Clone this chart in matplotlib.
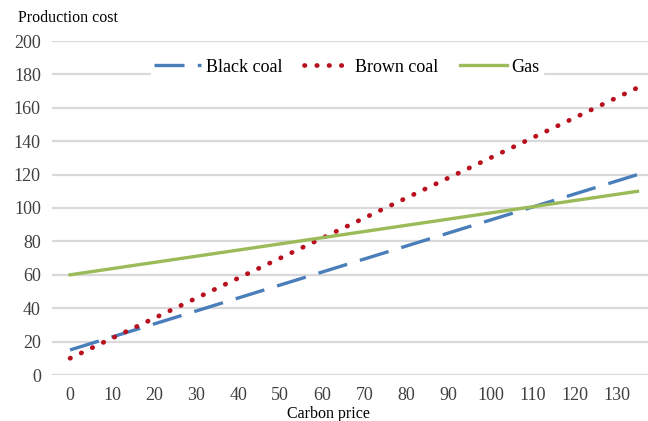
import matplotlib.pyplot as plt
import numpy as np

# carbon price endpoints and production cost per fuel (straight lines)
carbon_price = [0, 135]
black_coal = [15, 120]
brown_coal = [10, 172]
gas = [60, 110]

x_ticks = list(range(0, 140, 10))
y_ticks = list(range(0, 220, 20))

plt.rcParams["font.family"] = ["Liberation Serif", "DejaVu Serif"]

fig = plt.figure(figsize=(6.48, 4.21), dpi=100)
ax = fig.add_axes([52 / 648, 46 / 421, 596 / 648, 334 / 421])

ax.plot(carbon_price, black_coal, color="#4a7ebb", lw=2.4,
        dashes=(9, 4), label="Black coal")
ax.plot(carbon_price, brown_coal, color="#b8101c", lw=3.4,
        linestyle=(0, (0.1, 2.5)), dash_capstyle="round", label="Brown coal")
ax.plot(carbon_price, gas, color="#9bbb59", lw=2.4, label="Gas")

ax.set_xlim(-4.3, 137.5)
ax.set_ylim(0, 200)
ax.set_xticks(x_ticks)
ax.set_yticks(y_ticks)
ax.tick_params(length=0, labelsize=13, colors="#404040", pad=8)
ax.tick_params(axis="x", pad=9)
for s in ax.spines.values():
    s.set_visible(False)
ax.grid(axis="y", color="#d9d9d9", lw=1.6)
ax.set_axisbelow(True)

leg = ax.legend(loc="upper center", bbox_to_anchor=(0.495, 0.985), ncol=3,
                frameon=True, fontsize=13, handlelength=2.6, columnspacing=1.2,
                handletextpad=0.25, borderpad=0.2)
leg.get_frame().set_edgecolor("white")
leg.get_frame().set_facecolor("white")
leg.get_frame().set_alpha(1)

fig.text(18 / 648, 1 - 18 / 421, "Production cost", fontsize=11.5, va="center",
         ha="left")
fig.text(328 / 648, 1 - 414 / 421, "Carbon price", fontsize=11.5, va="center",
         ha="center")

fig.savefig("out.png", dpi=100)
